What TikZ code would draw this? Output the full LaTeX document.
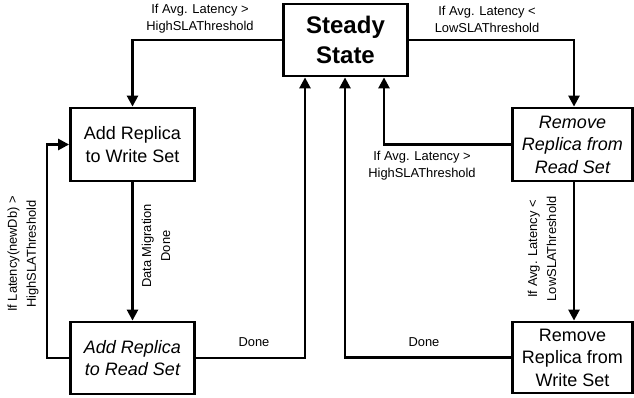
\documentclass[tikz,border=0pt]{standalone}
\usepackage{fontspec}
\setmainfont{Liberation Sans}
\usetikzlibrary{arrows.meta}
\begin{document}
\begin{tikzpicture}[x=1pt,y=-1pt,
 box/.style={draw, line width=2.8pt, inner sep=0pt, align=center, font=\fontsize{18}{22.5}\selectfont},
 lbl/.style={align=center, inner sep=0pt, font=\fontsize{12.9}{17}\selectfont},
 rlbl/.style={lbl, rotate=90, font=\fontsize{12.9}{19}\selectfont},
 conn/.style={line width=2.5pt, -{Triangle[length=11pt,width=11pt]}},
 ]
\useasboundingbox (0,0) rectangle (634,398);
\node[box, minimum width=124pt, minimum height=72pt, font=\fontsize{24}{30}\selectfont\bfseries] (steady) at (345.5,40) {Steady\\State};
\node[box, minimum width=124pt, minimum height=73pt] (addw) at (132.5,144.5) {Add Replica\\to Write Set};
\node[box, minimum width=124pt, minimum height=72pt] (addr) at (132.5,358) {\itshape Add Replica\\\itshape to Read Set};
\node[box, minimum width=120pt, minimum height=73pt] (remr) at (572.5,144.5) {\itshape Remove\\\itshape Replica from\\\itshape Read Set};
\node[box, minimum width=120pt, minimum height=71pt] (remw) at (572.5,357.5) {Remove\\Replica from\\Write Set};

\draw[conn] (steady.west) -| (addw.north);
\draw[conn] (steady.east) -| ([xshift=1.5pt]remr.north);
\draw[conn] (remr.west) -| ([xshift=38.5pt]steady.south);
\draw[conn] (remw.west) -| ([xshift=-0.5pt]steady.south);
\draw[conn] (addr.east) -| ([xshift=-40.5pt]steady.south);
\draw[conn] (addw.south) -- (addr.north);
\draw[conn] (addr.west) -- ++(-22,0) |- (addw.west);
\draw[conn] ([xshift=1.5pt]remr.south) -- ([xshift=1.5pt]remw.north);

\node[lbl] (l1) at (200,19) {If Avg. Latency \textgreater\\HighSLAThreshold};
\node[lbl] (l2) at (487,19) {If Avg. Latency \textless\\LowSLAThreshold};
\node[lbl] (l3) at (422,166) {If Avg. Latency \textgreater\\HighSLAThreshold};
\node[lbl] (l4) at (254,342) {Done};
\node[lbl] (l5) at (424,342) {Done};
\node[rlbl] (l6) at (156,246) {Data Migration\\Done};
\node[rlbl] (l7) at (23,254) {If Latency(newDb) \textgreater\\HighSLAThreshold};
\node[rlbl] (l8) at (542,249) {If Avg. Latency \textless\\LowSLAThreshold};
\end{tikzpicture}
\end{document}
